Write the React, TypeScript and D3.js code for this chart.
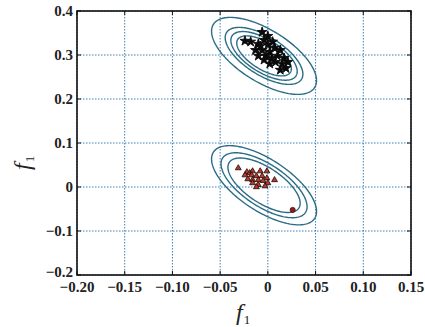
import * as d3 from "d3";

// upper cluster (stars)
const starX = [-0.006, -0.024, -0.018, -0.01, -0.004, 0.0, -0.013, -0.006, 0.002, 0.007, 0.013, -0.002, 0.004, -0.01, 0.01, 0.017, 0.008, 0.015, 0.021, 0.002, -0.004, 0.019, 0.013, -0.008, 0.005, 0.0];
const starY = [0.352, 0.332, 0.33, 0.325, 0.334, 0.323, 0.311, 0.311, 0.307, 0.316, 0.311, 0.298, 0.293, 0.298, 0.298, 0.293, 0.284, 0.28, 0.284, 0.28, 0.289, 0.27, 0.266, 0.32, 0.33, 0.343];

// lower cluster (triangles)
const triX = [-0.031, -0.022, -0.019, -0.016, -0.008, -0.001, -0.024, -0.017, -0.012, -0.006, -0.001, 0.007, -0.021, -0.016, -0.01, -0.005, 0.0, -0.016, -0.01, -0.003, -0.012];
const triY = [0.043, 0.034, 0.032, 0.036, 0.036, 0.036, 0.027, 0.027, 0.025, 0.025, 0.02, 0.016, 0.018, 0.016, 0.016, 0.014, 0.009, 0.009, 0.005, 0.002, 0.0];

// the odd one out
const outlierX = [0.026];
const outlierY = [-0.052];

// gaussian components: centre, std devs, correlation, contour levels (mahalanobis)
const compCx = [-0.004, -0.004];
const compCy = [0.298, 0.004];
const compSx = [0.022, 0.022];
const compSy = [0.035, 0.036];
const compRho = [-0.64, -0.66];
const compLevels = [
    [2.5, 1.85, 1.58, 1.3],
    [2.5, 2.05, 1.72],
];

const xTicks = [-0.2, -0.15, -0.1, -0.05, 0, 0.05, 0.1, 0.15];
const xTickLabels = ["\u22120.20", "\u22120.15", "\u22120.10", "\u22120.05", "0", "0.05", "0.10", "0.15"];
const yTicks = [-0.2, -0.1, 0, 0.1, 0.2, 0.3, 0.4];
const yTickLabels = ["\u22120.2", "\u22120.1", "0", "0.1", "0.2", "0.3", "0.4"];

const App = () => {
    const width = 425;
    const height = 327;
    const margin = { left: 77, top: 11, right: 14, bottom: 52 };
    const innerW = width - margin.left - margin.right;
    const innerH = height - margin.top - margin.bottom;

    const xScale = d3.scaleLinear().domain([-0.2, 0.15]).range([0, innerW]);
    const yScale = d3.scaleLinear().domain([-0.2, 0.4]).range([innerH, 0]);

    const angles = d3.range(0, 2 * Math.PI, Math.PI / 90);
    const ellipse = (i, r) => {
        const s = Math.sqrt(1 - compRho[i] * compRho[i]);
        return d3
            .line()
            .x((t) => xScale(compCx[i] + r * compSx[i] * Math.cos(t)))
            .y((t) =>
                yScale(
                    compCy[i] +
                        r * compSy[i] * (compRho[i] * Math.cos(t) + s * Math.sin(t))
                )
            )
            .curve(d3.curveLinearClosed)(angles);
    };

    const star = d3.symbol(d3.symbolStar, 30)();
    const tri = d3.symbol(d3.symbolTriangle, 15)();

    const font = "Liberation Serif, Times New Roman, Times, serif";
    const gridColor = "#3f80b4";

    return (
        <svg
            width={width}
            height={height}
            style={{ position: "absolute", left: 0, top: 0, background: "#fff" }}
        >
            <g transform={`translate(${margin.left},${margin.top})`}>
                {/* grid */}
                {xTicks.map((t) => (
                    <line
                        key={"gx" + t}
                        x1={xScale(t)}
                        x2={xScale(t)}
                        y1={0}
                        y2={innerH}
                        stroke={gridColor}
                        strokeWidth={1}
                        strokeDasharray="1.5,1.5"
                    />
                ))}
                {yTicks.map((t) => (
                    <line
                        key={"gy" + t}
                        x1={0}
                        x2={innerW}
                        y1={yScale(t)}
                        y2={yScale(t)}
                        stroke={gridColor}
                        strokeWidth={1}
                        strokeDasharray="1.5,1.5"
                    />
                ))}

                {/* contours */}
                {compLevels.map((levels, i) =>
                    levels.map((r) => (
                        <path
                            key={"e" + i + "-" + r}
                            d={ellipse(i, r)}
                            fill="none"
                            stroke="#2c6d86"
                            strokeWidth={1.4}
                        />
                    ))
                )}

                {/* points */}
                {triX.map((x, i) => (
                    <path
                        key={"t" + i}
                        d={tri}
                        transform={`translate(${xScale(x)},${yScale(triY[i])})`}
                        fill="#b83a2c"
                        stroke="#1a0a08"
                        strokeWidth={0.8}
                    />
                ))}
                {outlierX.map((x, i) => (
                    <circle
                        key={"o" + i}
                        cx={xScale(x)}
                        cy={yScale(outlierY[i])}
                        r={2.6}
                        fill="#8a1e1e"
                        stroke="#3a0a0a"
                        strokeWidth={0.6}
                    />
                ))}
                {starX.map((x, i) => (
                    <path
                        key={"s" + i}
                        d={star}
                        transform={`translate(${xScale(x)},${yScale(starY[i])})`}
                        fill="#0a0a0a"
                        stroke="#0a0a0a"
                        strokeWidth={0.9}
                    />
                ))}

                {/* ticks */}
                {xTicks.map((t) => (
                    <g key={"tx" + t}>
                        <line x1={xScale(t)} x2={xScale(t)} y1={innerH} y2={innerH - 4} stroke="#111" />
                        <line x1={xScale(t)} x2={xScale(t)} y1={0} y2={4} stroke="#111" />
                    </g>
                ))}
                {yTicks.map((t) => (
                    <g key={"ty" + t}>
                        <line x1={0} x2={4} y1={yScale(t)} y2={yScale(t)} stroke="#111" />
                        <line x1={innerW} x2={innerW - 4} y1={yScale(t)} y2={yScale(t)} stroke="#111" />
                    </g>
                ))}

                <rect
                    x={0}
                    y={0}
                    width={innerW}
                    height={innerH}
                    fill="none"
                    stroke="#111"
                    strokeWidth={1.6}
                />

                {/* tick labels */}
                {xTicks.map((t, i) => (
                    <text
                        key={"lx" + t}
                        x={xScale(t)}
                        y={innerH + 17}
                        textAnchor="middle"
                        fontFamily={font}
                        fontWeight="bold"
                        fontSize={15}
                        fill="#222"
                    >
                        {xTickLabels[i]}
                    </text>
                ))}
                {yTicks.map((t, i) => (
                    <text
                        key={"ly" + t}
                        x={-4}
                        y={yScale(t) + (i === 0 ? 2 : 5)}
                        textAnchor="end"
                        fontFamily={font}
                        fontWeight="bold"
                        fontSize={15}
                        fill="#222"
                    >
                        {yTickLabels[i]}
                    </text>
                ))}
            </g>

            {/* axis labels */}
            <text x={236} y={320} fontFamily={font} fontStyle="italic" fontSize={24} fill="#222">
                f
                <tspan fontStyle="normal" fontSize={13} dy={4} dx={1}>
                    1
                </tspan>
            </text>
            <text
                transform="translate(30,170) rotate(-90)"
                fontFamily={font}
                fontStyle="italic"
                fontSize={24}
                fill="#222"
            >
                f
                <tspan fontStyle="normal" fontSize={13} dy={4} dx={1}>
                    1
                </tspan>
            </text>
        </svg>
    );
};

export default App;
